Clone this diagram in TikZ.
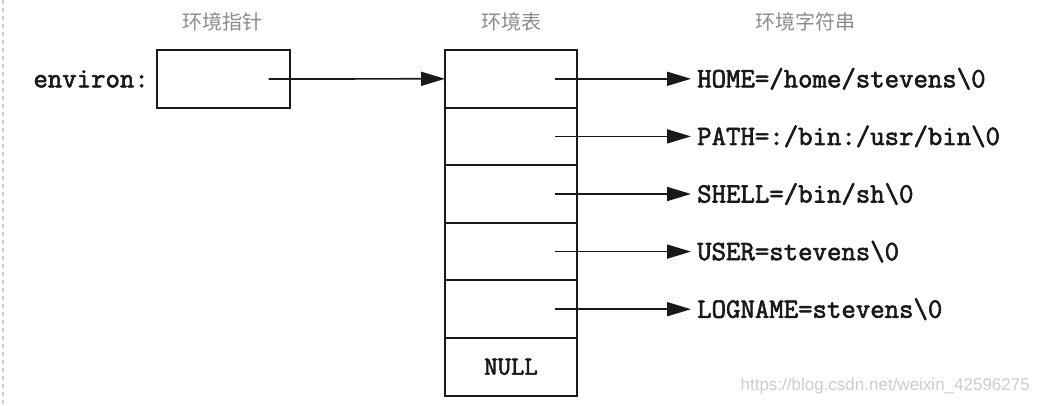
\documentclass[tikz,border=0pt]{standalone}
\usepackage{fontspec}
\newfontfamily\codefont{Latin Modern Mono}[FakeBold=2.2]
\newfontfamily\cjk{Noto Sans CJK SC}
\newfontfamily\wmfont{Liberation Sans}
\usetikzlibrary{arrows.meta}
\definecolor{hdr}{RGB}{140,140,140}
\definecolor{wmc}{RGB}{205,205,205}
\definecolor{ink}{RGB}{25,25,25}
\tikzset{
  cell/.style={draw=ink, line width=1.9pt, minimum width=132pt, minimum height=57.6pt, inner sep=0pt, outer sep=0pt},
  ptr/.style={draw=ink, line width=1.7pt, -{Triangle[length=24pt,width=14pt]}},
  code/.style={font=\codefont\fontsize{28}{30}\selectfont, text=ink, inner sep=0pt, anchor=west},
  header/.style={font=\cjk\fontsize{20}{22}\selectfont, text=hdr},
}
\begin{document}
\begin{tikzpicture}[x=1pt,y=-1pt]
\useasboundingbox[fill=white] (0,0) rectangle (1038,406);
\draw[wmc, line width=1.5pt, dash pattern=on 4pt off 4pt] (3,0) -- (3,406);

% headers
\node[header] (h1) at (222,22) {环境指针};
\node[header] (h2) at (511,22) {环境表};
\node[header] (h3) at (805,22) {环境字符串};

% environ pointer
\node[cell, minimum width=133pt] (envbox) at (223.5,79) {};
\node[code, anchor=east] (envlabel) at (149,79) {environ:};

% table
\node[cell] (c1) at (511,78.8) {};
\node[cell] (c2) at (511,136.4) {};
\node[cell] (c3) at (511,194.0) {};
\node[cell] (c4) at (511,251.6) {};
\node[cell] (c5) at (511,309.2) {};
\node[cell, font=\codefont\fontsize{26}{28}\selectfont, text=ink] (c6) at (511,366.8) {NULL};

% strings
\node[code] (s1) at (697,78.8) {HOME=/home/stevens\textbackslash 0};
\node[code] (s2) at (697,136.4) {PATH=:/bin:/usr/bin\textbackslash 0};
\node[code] (s3) at (697,194.0) {SHELL=/bin/sh\textbackslash 0};
\node[code] (s4) at (697,251.6) {USER=stevens\textbackslash 0};
\node[code] (s5) at (697,309.2) {LOGNAME=stevens\textbackslash 0};

% pointers
\draw[ptr] ([xshift=45pt]envbox.center) -- (c1.west);
\foreach \i in {1,...,5}{
  \draw[ptr] ([xshift=44pt]c\i.center) -- ([xshift=-6pt]s\i.west);
}

% watermark
\node[font=\wmfont\fontsize{17}{19}\selectfont, text=wmc, anchor=east, inner sep=0pt] (wm) at (1030,386) {https://blog.csdn.net/weixin\_42596275};
\end{tikzpicture}
\end{document}
